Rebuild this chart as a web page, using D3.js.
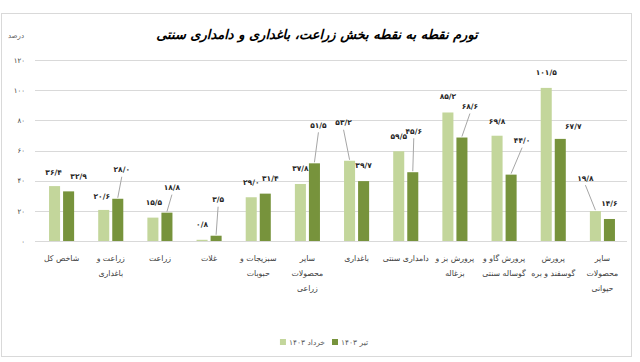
<!DOCTYPE html>
<html>
<head>
<meta charset="utf-8">
<script src="https://cdn.jsdelivr.net/npm/d3@7/dist/d3.min.js"></script>
<style>
  body { margin:0; background:#fff; }
  svg { font-family:"DejaVu Sans", sans-serif; }
</style>
</head>
<body>
<svg></svg>
<script>
// categories, left to right
var categories = [
  ["شاخص کل"],
  ["زراعت و", "باغداری"],
  ["زراعت"],
  ["غلات"],
  ["سبزیجات و", "حبوبات"],
  ["سایر", "محصولات", "زراعی"],
  ["باغداری"],
  ["دامداری سنتی"],
  ["پرورش بز و", "بزغاله"],
  ["پرورش گاو و", "گوساله سنتی"],
  ["پرورش", "گوسفند و بره"],
  ["سایر", "محصولات", "حیوانی"]
];
var khordad = [36.4, 20.6, 15.5, 0.8, 29.0, 37.8, 53.2, 59.5, 85.2, 69.8, 101.5, 19.8];
var tir     = [32.9, 28.0, 18.8, 3.5, 31.4, 51.5, 39.7, 45.6, 68.6, 44.0, 67.7, 14.6];
var seriesNames = ["خرداد ۱۴۰۳", "تیر ۱۴۰۳"];
var yTicks = [0, 20, 40, 60, 80, 100, 120];

// label offsets from the top centre of each bar [dx, dy, leader]
var khordadLabelPos = [[-1,-14,0],[-2,-14,0],[1,-15,0],[0,-15,0],[0,-15,0],[0,-16,0],
                       [-6,-38,1],[0,-15,0],[0,-16,0],[0,-14,0],[0,-16,0],[-10,-33,1]];
var tirLabelPos = [[10,-15,0],[4,-29,1],[5,-25,1],[2,-36,1],[5,-15,0],[4,-38,1],
                   [0,-16,0],[1,-41,1],[8,-31,1],[11,-34,1],[13,-13,0],[0,-16,0]];

var colors = ["#c3d69b", "#77933c"];

function fa(s){
  var digits = "۰۱۲۳۴۵۶۷۸۹";
  return String(s).replace(/[0-9]/g, function(c){ return digits[+c]; }).replace(".", "/");
}

var width = 640, height = 362;
var svg = d3.select("svg").attr("width", width).attr("height", height);

// frame
svg.append("rect")
   .attr("x", 1.5).attr("y", 13.5)
   .attr("width", 630).attr("height", 343)
   .attr("fill", "none")
   .attr("stroke", "#d9d9d9");

var left = 37, right = 627;
var xScale = d3.scaleBand()
               .domain(d3.range(categories.length))
               .range([left, right])
               .paddingInner(0.49)
               .paddingOuter(0.245);
var xInner = d3.scaleBand()
               .domain([0, 1])
               .range([0, xScale.bandwidth()])
               .paddingInner(0.214);
var yScale = d3.scaleLinear()
               .domain([0, 120])
               .range([241, 60]);

// grid
svg.append("g")
   .selectAll("line")
   .data(yTicks)
   .enter()
   .append("line")
   .attr("x1", left - 2)
   .attr("x2", right)
   .attr("y1", function(d){ return Math.round(yScale(d)) + 0.5; })
   .attr("y2", function(d){ return Math.round(yScale(d)) + 0.5; })
   .attr("stroke", "#d9d9d9")
   .attr("stroke-width", 1);

var yAxis = d3.axisLeft(yScale)
              .tickValues(yTicks)
              .tickSize(0)
              .tickPadding(0)
              .tickFormat(fa);
svg.append("g")
   .attr("transform", "translate(25,0)")
   .call(yAxis)
   .call(function(g){ g.select(".domain").remove(); })
   .selectAll("text")
   .attr("font-size", 7)
   .attr("font-family", "DejaVu Sans")
   .attr("fill", "#404040");

svg.append("text")
   .text("درصد")
   .attr("x", 16).attr("y", 38)
   .attr("text-anchor", "middle")
   .attr("font-size", 7)
   .attr("fill", "#595959");

svg.append("text")
   .text("تورم نقطه به نقطه بخش زراعت، باغداری و دامداری سنتی")
   .attr("x", 317).attr("y", 39)
   .attr("text-anchor", "middle")
   .attr("font-size", 13)
   .attr("font-weight", "bold")
   .attr("font-style", "italic")
   .attr("fill", "#000");

var series = [
  { name: seriesNames[0], values: khordad, pos: khordadLabelPos },
  { name: seriesNames[1], values: tir, pos: tirLabelPos }
];

series.forEach(function(s, si){
  var g = svg.append("g");
  var cx = function(i){ return xScale(i) + xInner(si) + xInner.bandwidth() / 2; };

  g.selectAll("rect")
   .data(s.values)
   .enter()
   .append("rect")
   .attr("x", function(d, i){ return xScale(i) + xInner(si); })
   .attr("y", function(d){ return yScale(d); })
   .attr("width", xInner.bandwidth())
   .attr("height", function(d){ return yScale(0) - yScale(d); })
   .attr("fill", colors[si]);

  g.selectAll("line")
   .data(s.values.map(function(v, i){ return { v: v, i: i }; })
                 .filter(function(d){ return s.pos[d.i][2]; }))
   .enter()
   .append("line")
   .attr("x1", function(d){ return cx(d.i) + s.pos[d.i][0]; })
   .attr("y1", function(d){ return yScale(d.v) + s.pos[d.i][1] + 7; })
   .attr("x2", function(d){ return cx(d.i); })
   .attr("y2", function(d){ return yScale(d.v) - 1; })
   .attr("stroke", "#a6a6a6")
   .attr("stroke-width", 1);

  g.selectAll("text")
   .data(s.values)
   .enter()
   .append("text")
   .text(function(d){ return fa(d.toFixed(1)); })
   .attr("x", function(d, i){ return cx(i) + s.pos[i][0]; })
   .attr("y", function(d, i){ return yScale(d) + s.pos[i][1]; })
   .attr("dy", "0.35em")
   .attr("text-anchor", "middle")
   .attr("font-size", 7.5)
   .attr("font-weight", "bold")
   .attr("fill", "#262626");
});

// category labels
var cat = svg.append("g")
             .selectAll("text")
             .data(categories)
             .enter()
             .append("text")
             .attr("text-anchor", "middle")
             .attr("direction", "rtl")
             .attr("font-size", 7.8)
             .attr("fill", "#404040");
cat.selectAll("tspan")
   .data(function(d, i){ return d.map(function(t){ return { t: t, i: i }; }); })
   .enter()
   .append("tspan")
   .attr("x", function(d){ return xScale(d.i) + xScale.bandwidth() / 2; })
   .attr("y", function(d, j){ return 261 + j * 15; })
   .text(function(d){ return d.t; });

// legend: right end of each item, marker sits left of its text
var legend = svg.append("g");
var legendRight = [325, 368];
series.forEach(function(s, si){
  var t = legend.append("text")
        .text(s.name)
        .attr("x", legendRight[si]).attr("y", 345)
        .attr("text-anchor", "end")
        .attr("font-size", 7.5)
        .attr("fill", "#595959");
  var w = t.node().getComputedTextLength();
  legend.append("rect")
        .attr("x", legendRight[si] - w - 9).attr("y", 339)
        .attr("width", 6).attr("height", 6)
        .attr("fill", colors[si]);
});
</script>
</body>
</html>
